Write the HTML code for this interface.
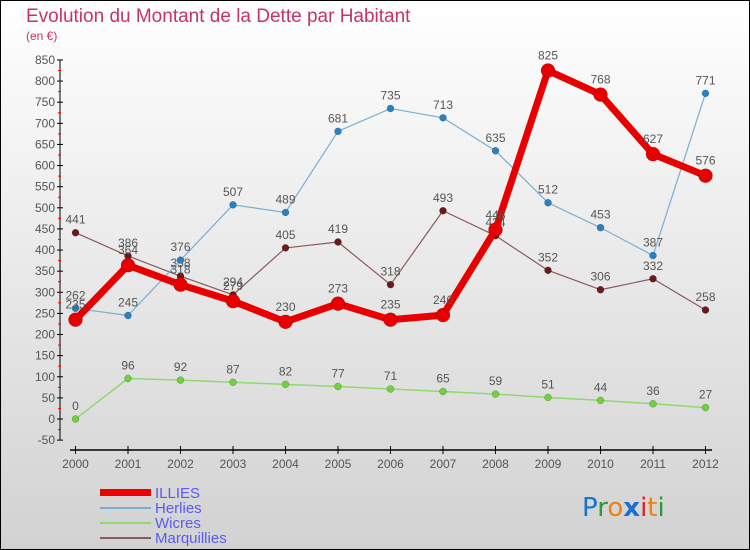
<!DOCTYPE html>
<html><head><meta charset="utf-8"><style>
body{margin:0;width:750px;height:550px;overflow:hidden;font-family:"Liberation Sans",sans-serif}
svg{display:block}
</style></head><body>
<svg id="chart" width="750" height="550" xmlns="http://www.w3.org/2000/svg">
<defs><linearGradient id="bg" x1="0" y1="0" x2="0" y2="1"><stop offset="0" stop-color="#ffffff"/><stop offset="1" stop-color="#d2d2d2"/></linearGradient></defs>
<rect x="0.5" y="0.5" width="749" height="549" fill="url(#bg)" stroke="#000"/>
<text x="26" y="22" font-size="19" fill="#c8326a">Evolution du Montant de la Dette par Habitant</text>
<text x="26" y="40" font-size="12" fill="#c8326a">(en €)</text>
<g id="axes"></g><g id="series"></g>
<g>
<rect x="100" y="489" width="51" height="7" fill="#e00"/>
<text x="155" y="498" font-size="15" fill="#5a5af0">ILLIES</text>
<rect x="100" y="507" width="51" height="2" fill="#7aaed0"/>
<text x="155" y="513" font-size="15" fill="#5a5af0">Herlies</text>
<rect x="100" y="522" width="51" height="2" fill="#90d870"/>
<text x="155" y="528" font-size="15" fill="#5a5af0">Wicres</text>
<rect x="100" y="537" width="51" height="2" fill="#8a5a5a"/>
<text x="155" y="543" font-size="15" fill="#5a5af0">Marquillies</text>
</g>
<g font-size="26" font-family="'DejaVu Sans',sans-serif">
<text x="582" y="516"><tspan fill="#1a70d0">P</tspan><tspan fill="#2a9a3a">r</tspan><tspan fill="#f08010">o</tspan><tspan fill="#1a70d0" font-weight="bold">x</tspan><tspan fill="#e02020">i</tspan><tspan fill="#f08010">t</tspan><tspan fill="#2a9a3a">i</tspan></text>
</g>
</svg>
<script>
const years=[2000,2001,2002,2003,2004,2005,2006,2007,2008,2009,2010,2011,2012];
const yTicks=[-50,0,50,100,150,200,250,300,350,400,450,500,550,600,650,700,750,800,850];
const illies=[235,364,318,279,230,273,235,246,448,825,768,627,576];
const herlies=[262,245,376,507,489,681,735,713,635,512,453,387,771];
const wicres=[0,96,92,87,82,77,71,65,59,51,44,36,27];
const marquillies=[441,386,338,294,405,419,318,493,434,352,306,332,258];
const NS="http://www.w3.org/2000/svg";
const xs=i=>75.5+i*52.5;
const ys=v=>419-v*0.4224;
function mk(tag,attrs,parent){const e=document.createElementNS(NS,tag);for(const k in attrs)e.setAttribute(k,attrs[k]);parent.appendChild(e);return e;}
const ax=document.getElementById('axes');
let yl=mk('line',{x1:60,y1:ys(850),x2:60,y2:ys(-50),stroke:'#000'},ax);


yTicks.forEach(v=>{
 mk('line',{x1:57,x2:63,y1:ys(v),y2:ys(v),stroke:'#000'},ax);
 if(v<850) mk('line',{x1:58,x2:61,y1:ys(v+25),y2:ys(v+25),stroke:'#f00'},ax);
 const t=mk('text',{x:55,y:ys(v)+4,'font-size':12,fill:'#555','text-anchor':'end'},ax);
 t.textContent=v;
 
 
});
let xl=mk('line',{x1:70,y1:450,x2:712,y2:450,stroke:'#000','stroke-width':1.5},ax);


years.forEach((y,i)=>{
 mk('line',{x1:xs(i),x2:xs(i),y1:446,y2:454,stroke:'#000'},ax);
 const t=mk('text',{x:xs(i),y:468,'font-size':12,fill:'#555','text-anchor':'middle'},ax);
 t.textContent=y;
 
 
});
const sg=document.getElementById('series');
function series(data,name,color,w,r,dot,labelDy){
 const g=mk('g',{},sg);
 
 
 const pl=mk('polyline',{points:data.map((v,i)=>xs(i)+','+ys(v)).join(' '),fill:'none',stroke:color,'stroke-width':w,'stroke-linejoin':'round'},g);
 
 
 data.forEach((v,i)=>{
  const c=mk('circle',{cx:xs(i),cy:ys(v),r:r,fill:dot,stroke:'rgba(0,0,0,0.3)','stroke-width':0.5},g);
  
  
  const t=mk('text',{x:xs(i),y:ys(v)+labelDy,'font-size':12,fill:'#555','text-anchor':'middle'},g);
  t.textContent=v;
  
  
 });
}
series(wicres,'wicres','#90d870',1.5,3.5,'#70d040',-9);
series(marquillies,'marquillies','#8a5a5a',1.2,3.5,'#6a1a1a',-9);
series(herlies,'herlies','#7aaed0',1.2,3.5,'#2a80c0',-9);
series(illies,'illies','#e80000',7,7,'#e80000',-11);
</script>
</body></html>
